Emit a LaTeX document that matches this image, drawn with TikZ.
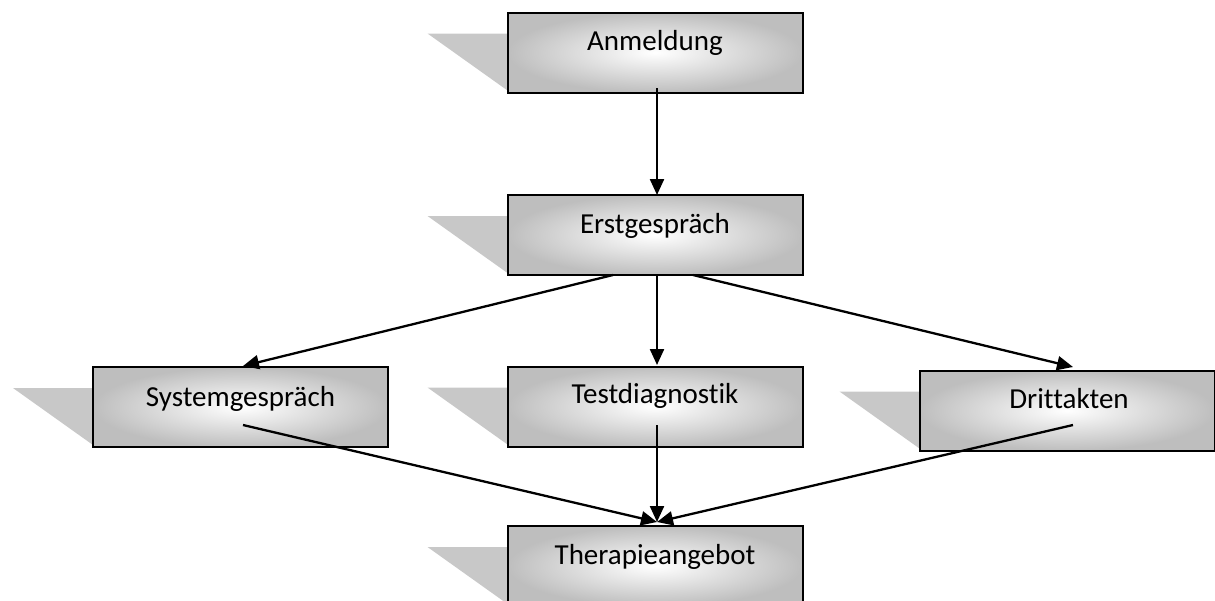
\documentclass[tikz,border=0pt]{standalone}
\usepackage{fontspec}
\setmainfont{Carlito}[Ligatures={NoCommon}]
\usetikzlibrary{arrows.meta,calc}
\definecolor{shadowgray}{RGB}{200,200,200}
\definecolor{edgegray}{RGB}{190,190,190}
\tikzset{
  box/.style={draw=black, line width=2pt, rectangle, minimum width=295pt, minimum height=80pt,
    inner sep=0pt, shading=radial, inner color=white, outer color=edgegray},
  lbl/.style={font=\fontsize{29}{34}\selectfont, anchor=base, inner sep=0pt},
  conn/.style={line width=2.3pt, -{Triangle[length=16pt,width=14pt]}},
  shadowfill/.style={fill=shadowgray},
}
\newcommand{\shadowat}[1]{%
  \fill[shadowfill] ($(#1)+(-227.5pt,19pt)$) -- ($(#1)+(-147.5pt,19pt)$) -- ($(#1)+(-147.5pt,-38pt)$) -- cycle;}
\begin{document}
\begin{tikzpicture}[x=1pt,y=1pt]
\useasboundingbox (0,0) rectangle (1215,-600);
\coordinate (anmC) at (655,-52.5);
\coordinate (ersC) at (655,-235);
\coordinate (sysC) at (240.5,-407);
\coordinate (tesC) at (655,-406.5);
\coordinate (driC) at (1067,-410.5);
\coordinate (theC) at (655,-566);
% shadows
\shadowat{anmC}
\shadowat{ersC}
\shadowat{sysC}
\shadowat{tesC}
\shadowat{driC}
\shadowat{theC}
% boxes
\node[box] (anm) at (anmC) {};
\node[box] (ers) at (ersC) {};
\node[box] (sys) at (sysC) {};
\node[box] (tes) at (tesC) {};
\node[box] (dri) at (driC) {};
\node[box] (the) at (theC) {};
% labels
\node[lbl] (anmL) at ($(anm.north)+(0,-39)$) {Anmeldung};
\node[lbl] (ersL) at ($(ers.north)+(0,-39)$) {Erstgespräch};
\node[lbl] (sysL) at ($(sys.north)+(0,-40)$) {Systemgespräch};
\node[lbl] (tesL) at ($(tes.north)+(0,-38)$) {Testdiagnostik};
\node[lbl] (driL) at ($(dri.north)+(2,-39)$) {Drittakten};
\node[lbl] (theL) at ($(the.north)+(0,-39)$) {Therapieangebot};
% connector end points
\coordinate (a0) at (657,-88);
\coordinate (a1) at (657,-195);
\coordinate (e1) at (613,-275);
\coordinate (e2) at (657,-275);
\coordinate (e3) at (693,-275);
\coordinate (s1) at (243,-366);
\coordinate (t1) at (657,-365);
\coordinate (d1) at (1073,-367);
\coordinate (s0) at (243,-425);
\coordinate (t0) at (657,-425);
\coordinate (d0) at (1073,-425);
\coordinate (th) at (657,-522);
% connectors
\draw[conn] (a0) -- (a1);
\draw[conn] (e1) -- (s1);
\draw[conn] (e2) -- (t1);
\draw[conn] (e3) -- (d1);
\draw[conn] (s0) -- (th);
\draw[conn] (t0) -- (th);
\draw[conn] (d0) -- (th);
\end{tikzpicture}
\end{document}
